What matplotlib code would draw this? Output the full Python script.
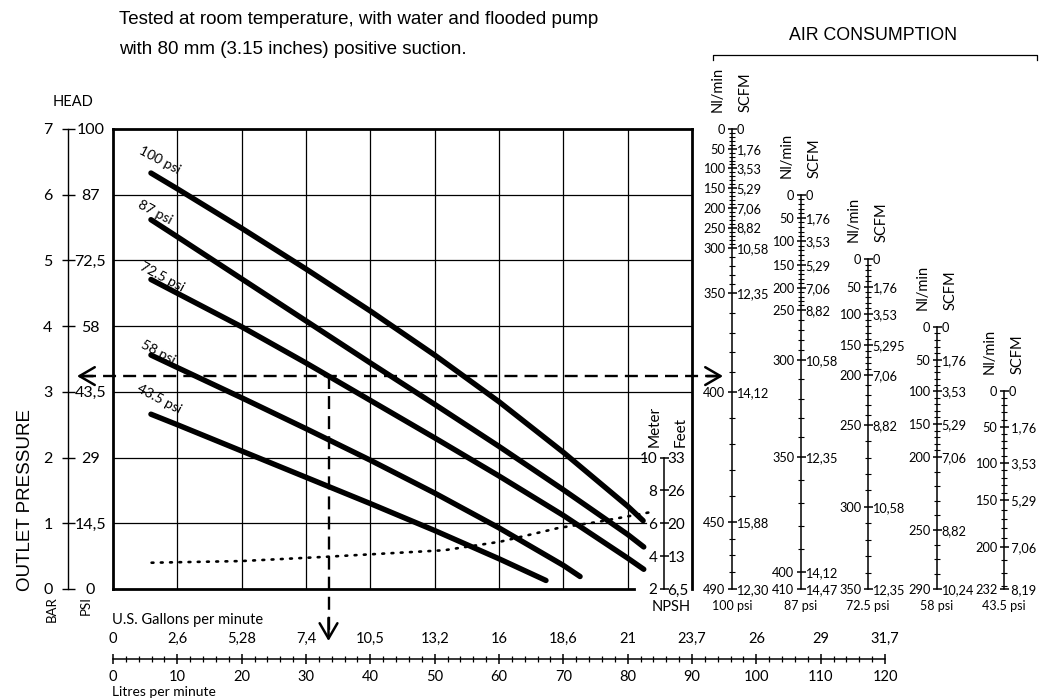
import numpy as np
import matplotlib
matplotlib.use("Agg")
import matplotlib.pyplot as plt
from matplotlib import font_manager
from matplotlib.ticker import FixedLocator, NullLocator

# ------------------------------------------------------------------ data
title_lines = ["Tested at room temperature, with water and flooded pump",
               "with 80 mm (3.15 inches) positive suction."]

pressure_bar_ticks = [0, 1, 2, 3, 4, 5, 6, 7]
pressure_bar_labels = ["0", "1", "2", "3", "4", "5", "6", "7"]
pressure_psi_labels = ["0", "14,5", "29", "43,5", "58", "72,5", "87", "100"]

flow_lpm_ticks = [0, 10, 20, 30, 40, 50, 60, 70, 80, 90, 100, 110, 120]
flow_lpm_labels = [str(v) for v in flow_lpm_ticks]
flow_gpm_labels = ["0", "2,6", "5,28", "7,4", "10,5", "13,2", "16", "18,6",
                   "21", "23,7", "26", "29", "31,7"]
flow_minor_step = 2

curve_names = ["100 psi", "87 psi", "72.5 psi", "58 psi", "43.5 psi"]
flow_100psi = [5.9, 10, 20, 30, 40, 50, 60, 70, 80, 82.4]
head_100psi = [6.33, 6.09, 5.49, 4.87, 4.23, 3.56, 2.85, 2.08, 1.26, 1.04]
flow_87psi = [5.9, 10, 20, 30, 40, 50, 60, 70, 80, 82.5]
head_87psi = [5.62, 5.36, 4.72, 4.08, 3.44, 2.81, 2.17, 1.51, 0.83, 0.64]
flow_72psi = [5.9, 10, 20, 30, 40, 50, 60, 70, 80, 82.5]
head_72psi = [4.71, 4.50, 3.99, 3.44, 2.87, 2.30, 1.72, 1.12, 0.47, 0.30]
flow_58psi = [5.9, 10, 20, 30, 40, 50, 60, 70, 72.6]
head_58psi = [3.56, 3.37, 2.91, 2.44, 1.96, 1.46, 0.93, 0.36, 0.19]
flow_43psi = [5.9, 10, 20, 30, 40, 50, 60, 67.3]
head_43psi = [2.66, 2.50, 2.10, 1.70, 1.30, 0.89, 0.46, 0.13]
label_flow = [7.2, 6.6, 7.6, 7.0, 7.2]
label_head = [6.52, 5.73, 4.74, 3.60, 2.89]

# NPSH curve (metres) and its scale
npsh_flow = [6.0, 19.9, 33.1, 51.5, 60.2, 69.3, 75.3, 83.6]
npsh_m = [3.60, 3.70, 3.96, 4.36, 4.88, 5.72, 6.08, 6.68]
npsh_m_ticks = [2, 4, 6, 8, 10]
npsh_ft_labels = ["6,5", "13", "20", "26", "33"]
NPSH_M_AT_0BAR, NPSH_M_PER_BAR = 2.0, 4.0

# example reading
example_bar = 3.24
example_lpm = 33.5

# air consumption scales: Nl/min labels, SCFM labels, outlet pressure (bar) of each label
air_psi_names = ["100 psi", "87 psi", "72.5 psi", "58 psi", "43.5 psi"]
air1_nl = [0, 50, 100, 150, 200, 250, 300, 350, 400, 450, 490]
air1_scfm = ["0", "1,76", "3,53", "5,29", "7,06", "8,82", "10,58", "12,35", "14,12", "15,88", "12,30"]
air1_bar = [7.00, 6.70, 6.40, 6.10, 5.80, 5.50, 5.19, 4.50, 3.00, 1.02, 0.00]
air2_nl = [0, 50, 100, 150, 200, 250, 300, 350, 400, 410]
air2_scfm = ["0", "1,76", "3,53", "5,29", "7,06", "8,82", "10,58", "12,35", "14,12", "14,47"]
air2_bar = [6.00, 5.65, 5.30, 4.93, 4.58, 4.25, 3.49, 2.01, 0.26, 0.00]
air3_nl = [0, 50, 100, 150, 200, 250, 300, 350]
air3_scfm = ["0", "1,76", "3,53", "5,295", "7,06", "8,82", "10,58", "12,35"]
air3_bar = [5.02, 4.60, 4.19, 3.71, 3.26, 2.50, 1.25, 0.00]
air4_nl = [0, 50, 100, 150, 200, 250, 290]
air4_scfm = ["0", "1,76", "3,53", "5,29", "7,06", "8,82", "10,24"]
air4_bar = [3.99, 3.49, 3.01, 2.51, 2.01, 0.90, 0.00]
air5_nl = [0, 50, 100, 150, 200, 232]
air5_scfm = ["0", " 1,76", " 3,53", " 5,29", " 7,06", " 8,19"]
air5_bar = [3.01, 2.47, 1.92, 1.35, 0.64, 0.00]
air_minor_step = 10

# ------------------------------------------------------------------ fonts
avail = {f.name for f in font_manager.fontManager.ttflist}
NARROW = [f for f in ["Liberation Sans Narrow", "Lato", "DejaVu Sans"] if f in avail][0]
ARIAL = [f for f in ["Liberation Sans", "DejaVu Sans"] if f in avail][0]
plt.rcParams["font.family"] = [NARROW, "DejaVu Sans"]

# ------------------------------------------------------------------ layout (pixels)
W, H = 1047, 700
AX_L, AX_R, AX_T, AX_B = 113, 692, 129, 589
FLOW_MAX_IN_BOX = 90
PX_PER_LPM = (AX_R - AX_L) / FLOW_MAX_IN_BOX
PX_PER_BAR = (AX_B - AX_T) / 7.0

fig = plt.figure(figsize=(W / 100, H / 100), dpi=100)


def fx(px):
    return px / W


def fy(py):
    return 1 - py / H


def lpm_at(px):
    return (px - AX_L) / PX_PER_LPM


def bar_at(py):
    return (AX_B - py) / PX_PER_BAR


ax = fig.add_axes([fx(AX_L), fy(AX_B), (AX_R - AX_L) / W, (AX_B - AX_T) / H])
ax.set_xlim(0, FLOW_MAX_IN_BOX)
ax.set_ylim(0, 7)
ax.set_xticks([])
ax.set_yticks([])
ax.patch.set_visible(False)
for s in ax.spines.values():
    s.set_linewidth(2.0)
ax.spines["bottom"].set_bounds(0, 81)

for v in flow_lpm_ticks:
    if 0 < v < FLOW_MAX_IN_BOX:
        ax.plot([v, v], [0, 7], color="black", lw=0.9, zorder=1)
for b in pressure_bar_ticks[1:-1]:
    xend = FLOW_MAX_IN_BOX if b >= 3 else lpm_at(646)
    ax.plot([0, xend], [b, b], color="black", lw=0.9, zorder=1)

curves = [(flow_100psi, head_100psi), (flow_87psi, head_87psi), (flow_72psi, head_72psi),
          (flow_58psi, head_58psi), (flow_43psi, head_43psi)]
for (fl, hd), name, lx, ly in zip(curves, curve_names, label_flow, label_head):
    ax.plot(fl, hd, color="black", lw=3.9, solid_capstyle="round",
            solid_joinstyle="round", zorder=3)
    ax.text(lx, ly, name, rotation=-28, ha="center", va="center", fontsize=10,
            rotation_mode="anchor", zorder=4)

# NPSH dotted curve
npsh_bar = [(m - NPSH_M_AT_0BAR) / NPSH_M_PER_BAR for m in npsh_m]
ax.plot(npsh_flow, npsh_bar, color="black", lw=1.9, linestyle=(0, (0.7, 2.8)),
        dash_capstyle="round", zorder=2)

# example reading dashed lines with arrowheads
dash = (0, (5.5, 3))
x_left_tip, x_right_tip = lpm_at(77), lpm_at(723)
y_bottom_tip = bar_at(641)
ax.plot([x_left_tip + 1.0, x_right_tip - 1.0], [example_bar, example_bar], color="black",
        lw=1.7, linestyle=dash, clip_on=False, zorder=5)
ax.plot([example_lpm, example_lpm], [example_bar, y_bottom_tip + 0.12], color="black",
        lw=1.7, linestyle=dash, clip_on=False, zorder=5)
ap = dict(arrowstyle="->,head_length=0.55,head_width=0.32", lw=1.8, color="black",
          mutation_scale=20, shrinkA=0, shrinkB=0)
ax.annotate("", xy=(x_left_tip, example_bar), xytext=(x_left_tip + 2.5, example_bar),
            arrowprops=ap, annotation_clip=False)
ax.annotate("", xy=(x_right_tip, example_bar), xytext=(x_right_tip - 2.5, example_bar),
            arrowprops=ap, annotation_clip=False)
ax.annotate("", xy=(example_lpm, y_bottom_tip), xytext=(example_lpm, y_bottom_tip + 0.35),
            arrowprops=ap, annotation_clip=False)


# ------------------------------------------------------------------ vertical scales
def vscale(x_px, ylim, pos, left_labels, right_labels, minor=None, major_len=9,
           minor_len=6, fs=9.5, lpad=2.0, rpad=3.4, lw=1.1, right_center=False):
    a = fig.add_axes([fx(x_px), fy(AX_B), 1e-4, (AX_B - AX_T) / H])
    a.set_ylim(*ylim)
    a.patch.set_visible(False)
    for s in ("top", "bottom", "right"):
        a.spines[s].set_visible(False)
    a.spines["left"].set_bounds(min(pos), max(pos))
    a.spines["left"].set_linewidth(lw)
    a.xaxis.set_major_locator(NullLocator())
    a.yaxis.set_major_locator(FixedLocator(pos))
    a.set_yticklabels(left_labels)
    if minor is not None:
        a.yaxis.set_minor_locator(FixedLocator(minor))
    a.tick_params(axis="y", which="major", direction="inout", length=major_len * 0.72,
                  width=lw, labelsize=fs, pad=lpad)
    a.tick_params(axis="y", which="minor", direction="inout", length=minor_len * 0.72,
                  width=0.8)
    t = a.twinx()
    t.set_ylim(*ylim)
    for s in t.spines.values():
        s.set_visible(False)
    t.xaxis.set_major_locator(NullLocator())
    t.yaxis.set_major_locator(FixedLocator(pos))
    t.yaxis.set_minor_locator(NullLocator())
    t.set_yticklabels(right_labels)
    t.tick_params(axis="y", which="major", length=0, labelsize=fs, pad=rpad)
    if right_center:
        for lab in t.get_yticklabels():
            lab.set_ha("center")
    return a, t


# outlet pressure scale (bar / psi)
vscale(68, (0, 7), pressure_bar_ticks, pressure_bar_labels, pressure_psi_labels,
       major_len=13, fs=11.5, lpad=6.5, rpad=16, lw=1.0, right_center=True)
fig.text(fx(73), fy(102), "HEAD", ha="center", va="center", fontsize=10.5)
fig.text(fx(26), fy(500), "OUTLET PRESSURE", rotation=90, ha="center", va="center",
         fontsize=13.5, family=ARIAL)
fig.text(fx(52), fy(596), "BAR", rotation=90, ha="center", va="top", fontsize=9.5)
fig.text(fx(86), fy(596), "PSI", rotation=90, ha="center", va="top", fontsize=9.5)

# NPSH scale
vscale(664, (NPSH_M_AT_0BAR, NPSH_M_AT_0BAR + 7 * NPSH_M_PER_BAR), npsh_m_ticks,
       [str(v) for v in npsh_m_ticks], npsh_ft_labels, major_len=9, fs=11, lpad=1.5,
       rpad=2.5)
fig.text(fx(655), fy(447), "Meter", rotation=90, ha="center", va="bottom", fontsize=11)
fig.text(fx(681), fy(447), "Feet", rotation=90, ha="center", va="bottom", fontsize=11)
fig.text(fx(671), fy(607), "NPSH", ha="center", va="center", fontsize=10.5)

# air consumption scales
air_x_px = [732, 801, 868, 937, 1004]
air_sets = [(air1_nl, air1_scfm, air1_bar), (air2_nl, air2_scfm, air2_bar),
            (air3_nl, air3_scfm, air3_bar), (air4_nl, air4_scfm, air4_bar),
            (air5_nl, air5_scfm, air5_bar)]
for xp, (nl, scfm, bpos), name in zip(air_x_px, air_sets, air_psi_names):
    minor_nl = np.arange(0, nl[-1], air_minor_step)
    minor_bar = np.interp(minor_nl, nl, bpos)
    vscale(xp, (0, 7), bpos, [str(v) for v in nl], scfm, minor=minor_bar, fs=9.2,
           lpad=1.6, rpad=3.0)
    top_py = AX_B - max(bpos) * PX_PER_BAR
    fig.text(fx(xp - 14), fy(top_py - 17), "Nl/min", rotation=90, ha="center",
             va="bottom", fontsize=10.5)
    fig.text(fx(xp + 14), fy(top_py - 17), "SCFM", rotation=90, ha="center",
             va="bottom", fontsize=10.5)
    fig.text(fx(xp), fy(606), name, ha="center", va="center", fontsize=9)

fig.text(fx(873), fy(36), "AIR CONSUMPTION", ha="center", va="center", fontsize=12.8,
         family=ARIAL)
fig.add_artist(plt.Line2D([fx(713), fx(713), fx(1037), fx(1037)],
                          [fy(60), fy(55), fy(55), fy(60)], color="black", lw=0.9))

# ------------------------------------------------------------------ flow axis
fa = fig.add_axes([fx(AX_L), fy(659), 120 * PX_PER_LPM / W, 1e-4])
fa.set_xlim(0, 120)
fa.patch.set_visible(False)
for s in ("top", "left", "right"):
    fa.spines[s].set_visible(False)
fa.spines["bottom"].set_bounds(0, 120)
fa.spines["bottom"].set_linewidth(1.1)
fa.yaxis.set_major_locator(NullLocator())
fa.xaxis.set_major_locator(FixedLocator(flow_lpm_ticks))
fa.xaxis.set_minor_locator(FixedLocator(np.arange(0, 120, flow_minor_step)))
fa.set_xticklabels(flow_lpm_labels)
fa.tick_params(axis="x", which="major", direction="inout", length=7.5, width=1.1,
               labelsize=10.5, pad=4.0)
fa.tick_params(axis="x", which="minor", direction="inout", length=4.5, width=0.9)
ft = fa.twiny()
ft.set_xlim(0, 120)
for s in ft.spines.values():
    s.set_visible(False)
ft.yaxis.set_major_locator(NullLocator())
ft.xaxis.set_major_locator(FixedLocator(flow_lpm_ticks))
ft.xaxis.set_minor_locator(NullLocator())
ft.set_xticklabels(flow_gpm_labels)
ft.tick_params(axis="x", which="major", length=0, labelsize=10.5, pad=9.5)
fig.text(fx(112), fy(620), "U.S. Gallons per minute", ha="left", va="center", fontsize=10.5)
fig.text(fx(112), fy(692), "Litres per minute", ha="left", va="center", fontsize=10)

# ------------------------------------------------------------------ title
fig.text(fx(119), fy(20), title_lines[0], ha="left", va="center", fontsize=13.5, family=ARIAL)
fig.text(fx(119), fy(50), title_lines[1], ha="left", va="center", fontsize=13.5, family=ARIAL)

fig.savefig("out.png", dpi=100)
